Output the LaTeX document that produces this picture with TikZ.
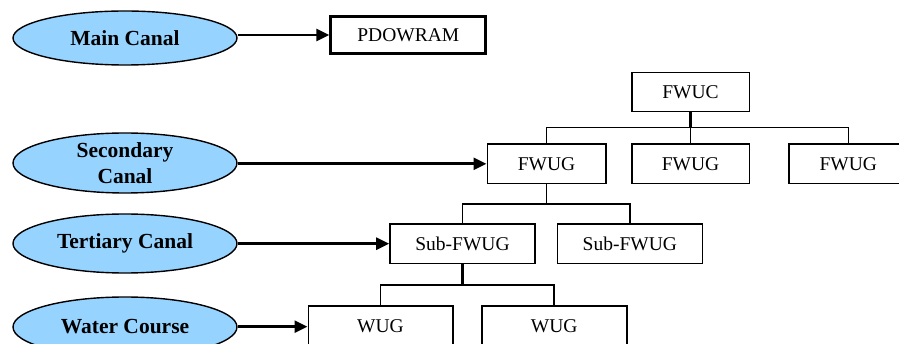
\documentclass[tikz,border=0pt]{standalone}
\usepackage{fontspec}
\setmainfont{Liberation Serif}
\usetikzlibrary{arrows.meta,shapes.geometric}
\definecolor{canalblue}{RGB}{150,212,255}
\begin{document}
\begin{tikzpicture}[x=1pt,y=-1pt,
  canal/.style={ellipse,draw=black,line width=1.4pt,fill=canalblue,minimum width=224pt,inner sep=0pt,
     font=\fontsize{21.5}{26.5}\selectfont\bfseries,align=center},
  orgbox/.style={rectangle,draw=black,line width=1.6pt,inner sep=0pt,minimum height=39.3pt,
     font=\fontsize{19.5}{23}\selectfont},
  arr/.style={line width=2.6pt,-{Triangle[length=13pt,width=12pt]}},
  conn/.style={line width=1.6pt},
  stub/.style={line width=2.6pt}]
\useasboundingbox (0,0) rectangle (899,344);
\begin{scope}
\clip (0,0) rectangle (899,344);
% ellipses
\node[canal,minimum height=54pt] (main) at (125,38) {Main Canal};
\node[canal,minimum height=60pt] (sec) at (125,163) {Secondary\\Canal};
\node[canal,minimum height=59pt] (ter) at (125,243.5) {Tertiary Canal};
\node[canal,minimum height=60pt] (wat) at (125,327) {Water Course};
% boxes
\node[orgbox,line width=3pt,minimum width=155pt,minimum height=37pt] (pd) at (408.3,35) {PDOWRAM};
\node[orgbox,minimum width=117.6pt] (fwuc) at (690.5,92) {FWUC};
\node[orgbox,minimum width=118.4pt] (g1) at (546.5,163.8) {FWUG};
\node[orgbox,minimum width=117.6pt] (g2) at (690.5,163.8) {FWUG};
\node[orgbox,minimum width=118.4pt] (g3) at (848.3,163.8) {FWUG};
\node[orgbox,minimum width=145pt] (s1) at (462.5,243.7) {Sub-FWUG};
\node[orgbox,minimum width=145pt] (s2) at (629.8,243.7) {Sub-FWUG};
\node[orgbox,minimum width=144.4pt,minimum height=41pt] (w1) at (380.5,326.5) {WUG};
\node[orgbox,minimum width=145pt,minimum height=41pt] (w2) at (554.2,326.5) {WUG};
% arrows
\draw[arr] (main.east |- pd.west) -- (pd.west);
\draw[arr] (sec.east |- g1.west) -- (g1.west);
\draw[arr] (ter.east |- s1.west) -- (s1.west);
\draw[arr] (wat.east |- 0,326.7) coordinate (wa) -- (w1.west |- wa);
% tree connectors
\coordinate (j1) at (690.5,127.7);
\draw[stub] (fwuc.south) -- (j1);
\draw[conn] (g1.north) |- (j1) -| (g3.north);
\draw[conn] (j1) -- (g2.north);
\coordinate (j2) at (546.5,204);
\draw[conn] (g1.south) -- (j2);
\draw[conn] (s1.north) |- (j2) -| (s2.north);
\coordinate (j3) at (462.5,285);
\draw[stub] (s1.south) -- (j3);
\draw[conn] (w1.north) |- (j3) -| (w2.north);
\end{scope}
\end{tikzpicture}
\end{document}
